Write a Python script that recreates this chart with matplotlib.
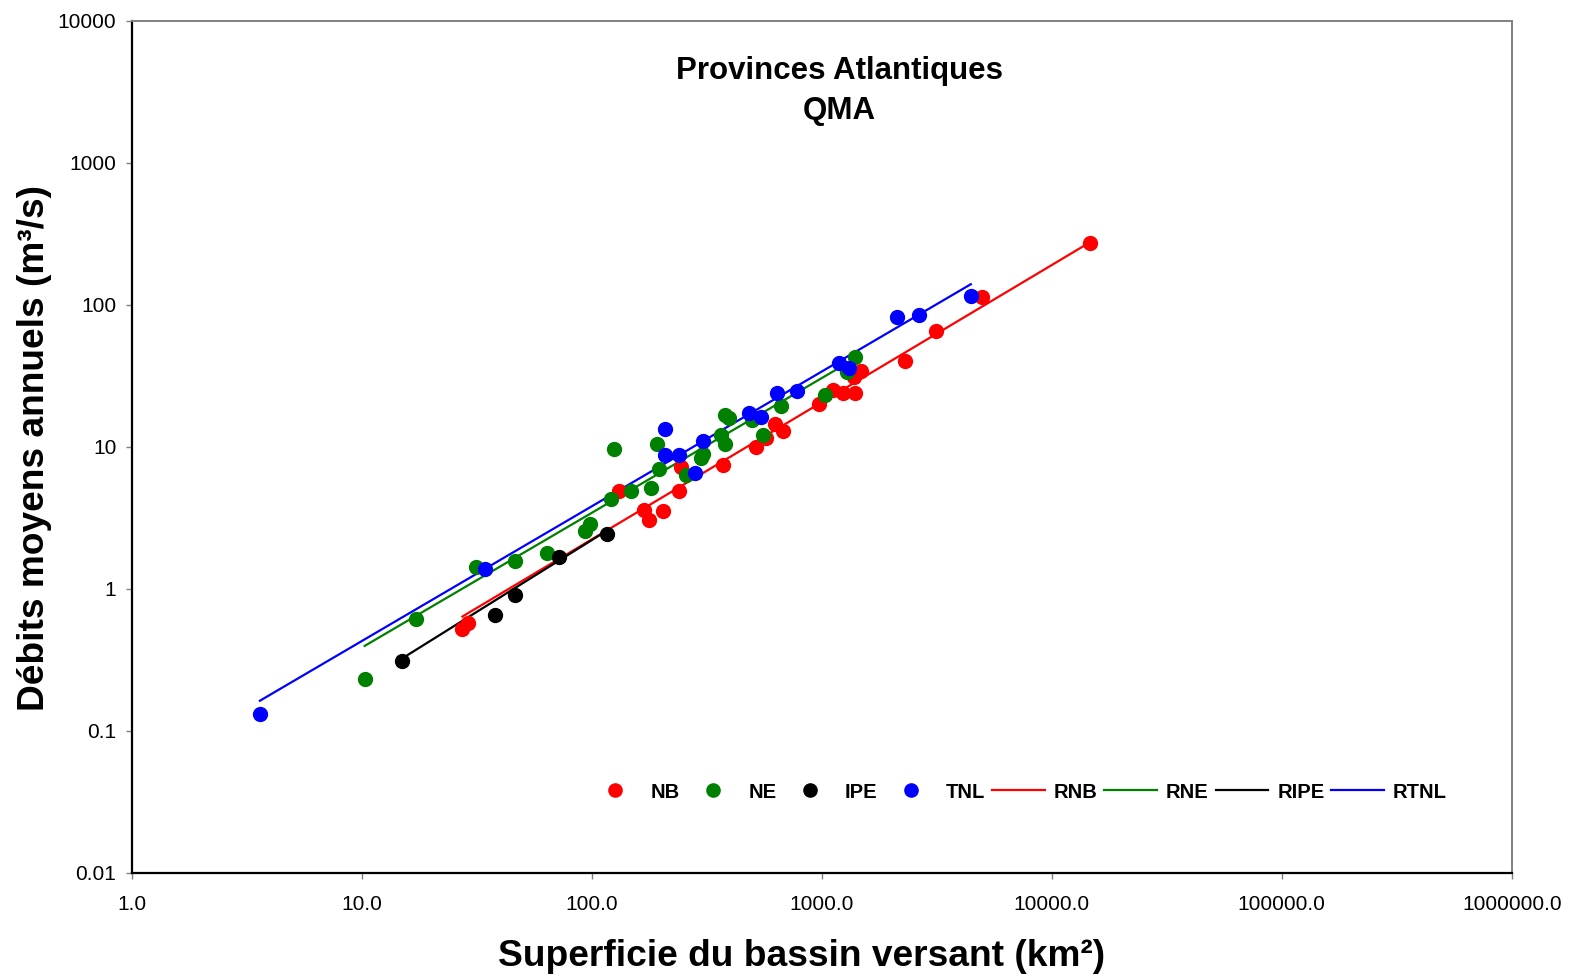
import matplotlib
matplotlib.use("Agg")
import matplotlib.pyplot as plt
import numpy as np

plt.rcParams['font.family'] = ['Liberation Sans', 'DejaVu Sans']

# Superficie (km2) et debit moyen annuel (m3/s) par province
nb_area = [27.4, 29.0, 131, 169, 177, 204, 239, 245, 372, 520, 571, 628, 680,
           977, 1124, 1234, 1396, 1387, 1483, 2300, 3150, 5000, 14600]
nb_flow = [0.52, 0.57, 4.87, 3.57, 3.07, 3.52, 4.87, 7.22, 7.43, 10.0, 11.6, 14.4, 12.9,
           19.9, 25.1, 23.8, 23.8, 31.2, 34.2, 40.3, 64.8, 113, 271]

ne_area = [10.3, 17.3, 31.5, 46.2, 63.7, 93.6, 98.4, 121, 148, 125, 181, 197, 192,
           256, 299, 304, 365, 380, 378, 395, 500, 556, 668, 1037, 1285, 1396]
ne_flow = [0.23, 0.61, 1.42, 1.56, 1.77, 2.54, 2.87, 4.25, 4.86, 9.57, 5.16, 6.92, 10.5,
           6.31, 8.27, 8.83, 12.1, 10.5, 16.7, 15.8, 15.3, 12.1, 19.5, 23.2, 33.8, 42.7]

ipe_area = [15.0, 37.8, 46.6, 71.8, 116]
ipe_flow = [0.308, 0.65, 0.90, 1.67, 2.44]

tnl_area = [3.61, 34.2, 208, 208, 240, 281, 305, 483, 543, 642, 780, 1194, 1320,
            2120, 2650, 4450]
tnl_flow = [0.132, 1.37, 13.3, 8.74, 8.74, 6.48, 11.0, 17.2, 16.1, 23.8, 24.7, 38.7, 36.1,
            81.8, 84.1, 116]

# Regressions log10(Q) = a*log10(A) + b
reg_slope = [0.966, 0.949, 1.011, 0.949]
reg_intercept = [-1.585, -1.364, -1.680, -1.318]

series_names = ['NB', 'NE', 'IPE', 'TNL']
reg_names = ['RNB', 'RNE', 'RIPE', 'RTNL']
colors = ['#FF0000', '#008000', '#000000', '#0000FF']

x_ticks = [1, 10, 100, 1000, 10000, 100000, 1000000]
x_ticklabels = ['1.0', '10.0', '100.0', '1000.0', '10000.0', '100000.0', '1000000.0']
y_ticks = [0.01, 0.1, 1, 10, 100, 1000, 10000]
y_ticklabels = ['0.01', '0.1', '1', '10', '100', '1000', '10000']

areas = [nb_area, ne_area, ipe_area, tnl_area]
flows = [nb_flow, ne_flow, ipe_flow, tnl_flow]

fig = plt.figure(figsize=(15.73, 9.77), dpi=100)
ax = fig.add_axes([131.7 / 1573, 1 - 872.7 / 977, 1380 / 1573, 852 / 977])

point_handles = []
line_handles = []
for i in range(4):
    a = np.array(areas[i])
    xs = np.array([a.min(), a.max()])
    ys = 10 ** (reg_slope[i] * np.log10(xs) + reg_intercept[i])
    ln, = ax.plot(xs, ys, color=colors[i], lw=1.6, zorder=2, label=reg_names[i])
    line_handles.append(ln)
for i in range(4):
    pt, = ax.plot(areas[i], flows[i], 'o', color=colors[i], ms=10, ls='none',
                  zorder=3, label=series_names[i])
    point_handles.append(pt)

ax.set_xscale('log')
ax.set_yscale('log')
ax.set_xlim(1, 1e6)
ax.set_ylim(0.01, 1e4)
ax.set_xticks(x_ticks)
ax.set_xticklabels(x_ticklabels)
ax.set_yticks(y_ticks)
ax.set_yticklabels(y_ticklabels)
ax.minorticks_off()
ax.tick_params(direction='out', length=4, width=1, color='#808080', labelsize=15)
ax.tick_params(axis='x', pad=12)
ax.tick_params(axis='y', pad=7)

for s in ['left', 'bottom']:
    ax.spines[s].set_color('black')
    ax.spines[s].set_linewidth(1.6)
for s in ['top', 'right']:
    ax.spines[s].set_color('#808080')
    ax.spines[s].set_linewidth(1.4)

fig.text(839 / 1573, 1 - 91 / 977, 'Provinces Atlantiques\nQMA', ha='center',
         va='center', fontsize=22.5, fontweight='bold', linespacing=1.45)
fig.text(802 / 1573, 1 - 956 / 977, 'Superficie du bassin versant (km²)',
         ha='center', va='center', fontsize=26.7, fontweight='bold')
fig.text(35 / 1573, 1 - 448 / 977, 'Débits moyens annuels (m³/s)', rotation=90,
         ha='center', va='center', fontsize=26.7, fontweight='bold')

leg = fig.legend(point_handles + line_handles, series_names + reg_names,
                 loc='center', bbox_to_anchor=(1018 / 1573, 1 - 792 / 977),
                 ncol=8, frameon=False, prop={'weight': 'bold', 'size': 14.5},
                 handlelength=2.6, handletextpad=0.45, columnspacing=0.35,
                 markerscale=0.95)

fig.savefig('out.png', dpi=100)
